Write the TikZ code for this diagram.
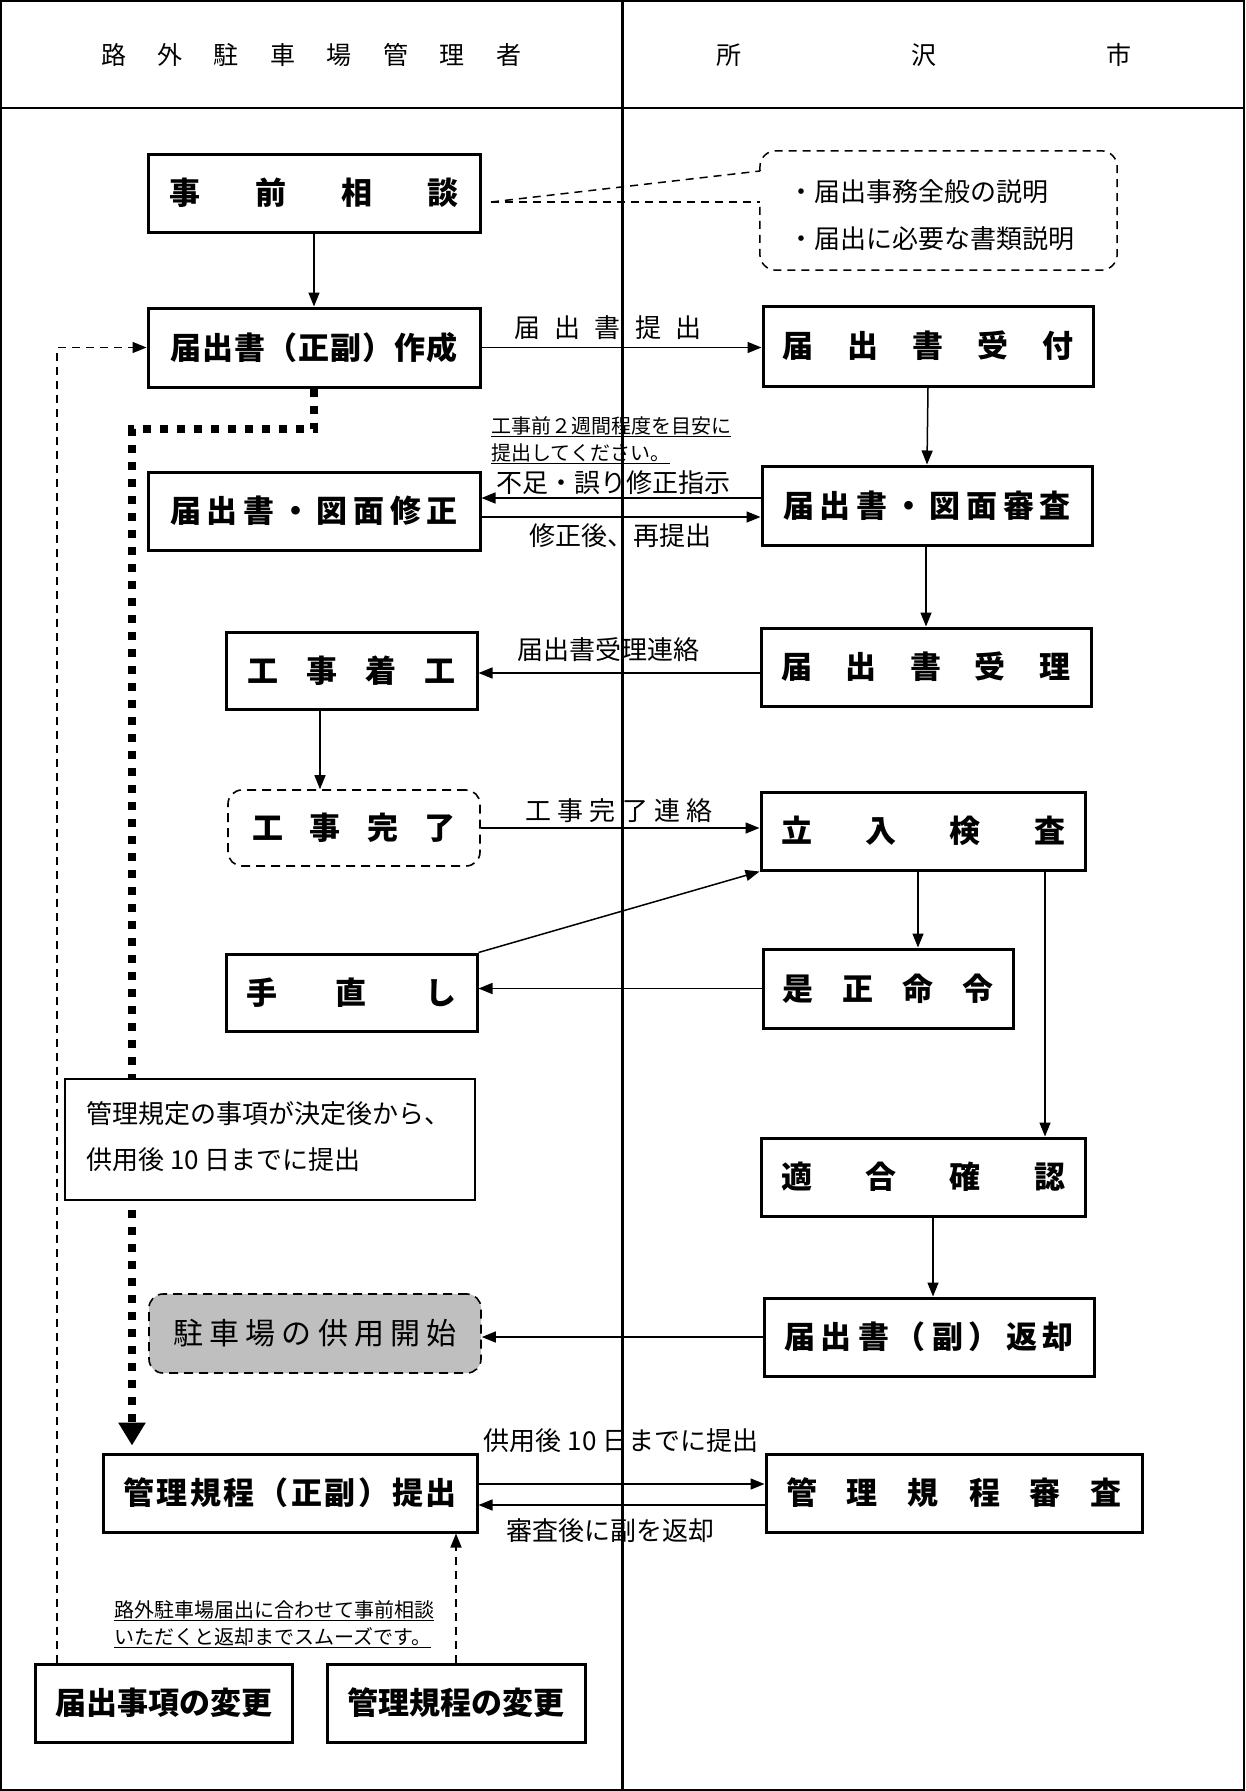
\documentclass[tikz,border=0pt]{standalone}
\usepackage{fontspec}
\setmainfont{Noto Sans CJK JP}
\usetikzlibrary{arrows.meta}
\newcommand\sprd[2]{\makebox[#1pt][s]{#2}}
\begin{document}
\begin{tikzpicture}[x=1pt,y=-1pt,
  box/.style={draw, line width=3pt, minimum height=78pt, inner sep=0pt, font=\bfseries\fontsize{31}{31}\selectfont},
  rbox/.style={box, dash pattern=on 9pt off 6pt, line width=1.6pt, rounded corners=14pt},
  lbl/.style={inner sep=0pt, font=\fontsize{26}{26}\selectfont},
  small/.style={inner sep=0pt, align=left, font=\fontsize{20}{27}\selectfont},
  arr/.style={line width=1.5pt, -{Triangle[length=14pt,width=11pt]}},
  dasharr/.style={arr, dash pattern=on 8pt off 6pt},
  dotline/.style={line width=8pt, dash pattern=on 8pt off 9pt, -{Triangle[length=23pt,width=26pt]}},
]
\useasboundingbox (0,0) rectangle (1245,1791);
% frame
\draw[line width=2pt] (1,1) rectangle (1244,1790);
\draw[line width=2pt] (0,108) -- (1245,108);
\draw[line width=3pt] (622,0) -- (622,1791);

% headers
\node[lbl, font=\fontsize{25}{25}\selectfont] (hdrL) at (311,55) {\sprd{420}{路\hfill 外\hfill 駐\hfill 車\hfill 場\hfill 管\hfill 理\hfill 者}};
\node[lbl, font=\fontsize{25}{25}\selectfont] (hdrR) at (924,55) {\sprd{415}{所\hfill 沢\hfill 市}};

% boxes
\node[box, minimum width=332pt] (soudan) at (314,193) {\sprd{290}{事\hfill 前\hfill 相\hfill 談}};
\node[box, minimum width=332pt, minimum height=79pt] (sakusei) at (314,347.5) {\sprd{288}{届\hfill 出\hfill 書\hfill （\hfill 正\hfill 副\hfill ）\hfill 作\hfill 成}};
\node[box, minimum width=330pt, minimum height=80pt] (uketsuke) at (928,346) {\sprd{292}{届\hfill 出\hfill 書\hfill 受\hfill 付}};
\node[box, minimum width=332pt] (shusei) at (314,511) {\sprd{288}{届\hfill 出\hfill 書\hfill ・\hfill 図\hfill 面\hfill 修\hfill 正}};
\node[box, minimum width=330pt, minimum height=79pt] (shinsa) at (927,505.5) {\sprd{288}{届\hfill 出\hfill 書\hfill ・\hfill 図\hfill 面\hfill 審\hfill 査}};
\node[box, minimum width=251pt, minimum height=77pt] (chakko) at (351.5,670.5) {\sprd{209}{工\hfill 事\hfill 着\hfill 工}};
\node[box, minimum width=330pt] (juri) at (926,667) {\sprd{289}{届\hfill 出\hfill 書\hfill 受\hfill 理}};
\node[rbox, minimum width=252pt, minimum height=76pt] (kanryo) at (354,828) {\sprd{203}{工\hfill 事\hfill 完\hfill 了}};
\node[box, minimum width=324pt] (kensa) at (923,831) {\sprd{284}{立\hfill 入\hfill 検\hfill 査}};
\node[box, minimum width=251pt, minimum height=77pt] (tenaoshi) at (351.5,992.5) {\sprd{210}{手\hfill 直\hfill し}};
\node[box, minimum width=250pt, minimum height=79pt] (zesei) at (888,988.5) {\sprd{212}{是\hfill 正\hfill 命\hfill 令}};
\node[box, minimum width=324pt] (tekigo) at (923,1177) {\sprd{284}{適\hfill 合\hfill 確\hfill 認}};
\node[box, minimum width=330pt] (henkyaku) at (929,1337) {\sprd{290}{届\hfill 出\hfill 書\hfill （\hfill 副\hfill ）\hfill 返\hfill 却}};
\node[rbox, fill={rgb,255:red,191;green,191;blue,191}, minimum width=332pt, minimum height=79pt, font=\fontsize{30}{30}\selectfont] (kaishi) at (315,1333.5) {\sprd{283}{駐\hfill 車\hfill 場\hfill の\hfill 供\hfill 用\hfill 開\hfill 始}};
\node[box, minimum width=374pt] (teishutsu) at (290,1493) {\sprd{334}{管\hfill 理\hfill 規\hfill 程\hfill （\hfill 正\hfill 副\hfill ）\hfill 提\hfill 出}};
\node[box, minimum width=376pt] (kisei) at (954,1493) {\sprd{336}{管\hfill 理\hfill 規\hfill 程\hfill 審\hfill 査}};
\node[box, minimum width=257pt] (henko1) at (163.5,1703) {届出事項の変更};
\node[box, minimum width=258pt] (henko2) at (456,1703) {管理規程の変更};

% callout
\node[inner sep=0pt, minimum width=357pt, minimum height=119pt] (callout) at (938.5,210.5) {};
\node[lbl, anchor=west, align=left, font=\fontsize{26}{47}\selectfont] (callouttxt) at (788,215.5) {・届出事務全般の説明\\・届出に必要な書類説明};
\coordinate (p1) at (760,171);
\coordinate (p2) at (760,202);
\coordinate (ptip) at (491,202);
\draw[line width=1.5pt, dash pattern=on 8pt off 6pt, rounded corners=16pt] (p1) -- (callout.north west) -- (callout.north east) -- (callout.south east) -- (callout.south west) -- (p2);
\draw[line width=1.5pt, dash pattern=on 8pt off 6pt] (ptip) -- (p1);
\draw[line width=1.5pt, dash pattern=on 8pt off 6pt] (ptip) -- (p2);

% dotted thick line
\coordinate (dl) at (132,429);
\draw[dotline, shorten >=7pt] (sakusei.south) |- (dl) -- (dl |- teishutsu.north);

% note box
\node[draw, fill=white, line width=1.5pt, minimum width=410pt, minimum height=121pt, inner sep=0pt] (note) at (270,1139.5) {};
\node[lbl, anchor=west, align=left, font=\fontsize{26}{46}\selectfont] (notetxt) at (86,1137) {管理規定の事項が決定後から、\\供用後 10 日までに提出};

% arrows
\draw[arr] (soudan.south) -- (sakusei.north);
\draw[arr] (sakusei.east) -- (sakusei.east -| uketsuke.west);
\draw[arr] (uketsuke.south) -- (shinsa.north);
\coordinate (a1) at ([yshift=7.5pt]shinsa.west);
\draw[arr] (a1) -- (a1 -| shusei.east);
\coordinate (a2) at ([yshift=-6pt]shusei.east);
\draw[arr] (a2) -- (a2 -| shinsa.west);
\draw[arr] (shinsa.south -| juri.north) -- (juri.north);
\coordinate (a3) at ([yshift=-6pt]juri.west);
\draw[arr] (a3) -- (a3 -| chakko.east);
\coordinate (c320) at (320,0);
\draw[arr] (chakko.south -| c320) -- (kanryo.north -| c320);
\draw[arr] (kanryo.east) -- (kanryo.east -| kensa.west);
\draw[arr] (tenaoshi.north east) -- (kensa.south west);
\coordinate (c918) at (918,0);
\draw[arr] (kensa.south -| c918) -- (zesei.north -| c918);
\coordinate (c1045) at (1045,0);
\draw[arr] (kensa.south -| c1045) -- (tekigo.north -| c1045);
\draw[arr] (zesei.west) -- (zesei.west -| tenaoshi.east);
\coordinate (c933) at (933,0);
\draw[arr] (tekigo.south -| c933) -- (henkyaku.north -| c933);
\draw[arr] (henkyaku.west) -- (henkyaku.west -| kaishi.east);
\coordinate (a4) at ([yshift=9pt]teishutsu.east);
\draw[arr] (a4) -- (a4 -| kisei.west);
\coordinate (a5) at ([yshift=-12pt]kisei.west);
\draw[arr] (a5) -- (a5 -| teishutsu.east);
\coordinate (c57) at (57,0);
\draw[dasharr] (henko1.north -| c57) |- (sakusei.west);
\draw[dasharr] (henko2.north) -- (henko2.north |- teishutsu.south);

% labels
\node[lbl] (l1) at (608,328) {\sprd{188}{届\hfill 出\hfill 書\hfill 提\hfill 出}};
\node[small, anchor=west] (memo1) at (491,440) {\underline{工事前２週間程度を目安に}\\\underline{提出してください。}};
\node[lbl] (l2) at (613,483) {不足・誤り修正指示};
\node[lbl] (l3) at (620,536) {修正後、再提出};
\node[lbl] (l4) at (608,650) {届出書受理連絡};
\node[lbl] (l5) at (619,811) {\sprd{188}{工\hfill 事\hfill 完\hfill 了\hfill 連\hfill 絡}};
\node[lbl] (l6) at (621,1441) {供用後 10 日までに提出};
\node[lbl] (l7) at (610,1531) {審査後に副を返却};
\node[small, anchor=west] (memo2) at (114,1624) {\underline{路外駐車場届出に合わせて事前相談}\\\underline{いただくと返却までスムーズです。}};
\end{tikzpicture}
\end{document}
